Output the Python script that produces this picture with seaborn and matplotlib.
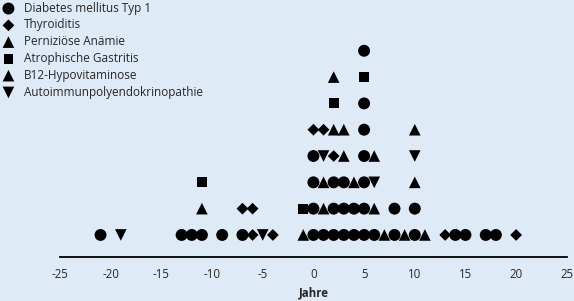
import pandas as pd
import numpy as np
import seaborn as sns
import matplotlib.pyplot as plt

# Ereignisse: Jahr relativ zur Diagnose und Krankheit (Reihenfolge = Stapel von unten nach oben)
jahre = [-21, -19, -13, -12, -11, -11, -11, -9, -7, -7, -6, -6, -5, -4,
         -1, -1,
         0, 0, 0, 0, 0,
         1, 1, 1, 1, 1,
         2, 2, 2, 2, 2, 2, 2,
         3, 3, 3, 3, 3,
         4, 4, 4,
         5, 5, 5, 5, 5, 5, 5, 5,
         6, 6, 6, 6,
         7, 8, 8, 9,
         10, 10, 10, 10, 10,
         11, 13, 14, 15, 17, 18, 20]

krankheit = ["DM", "APE", "DM", "DM", "DM", "PA", "AG", "DM", "DM", "TH", "TH", "TH", "APE", "TH",
             "B12", "AG",
             "DM", "DM", "DM", "DM", "TH",
             "DM", "PA", "B12", "APE", "TH",
             "DM", "DM", "DM", "TH", "PA", "AG", "PA",
             "DM", "DM", "DM", "PA", "B12",
             "DM", "DM", "B12",
             "DM", "DM", "DM", "DM", "DM", "DM", "AG", "DM",
             "DM", "PA", "APE", "B12",
             "B12", "DM", "DM", "PA",
             "DM", "DM", "B12", "APE", "PA",
             "B12", "TH", "DM", "DM", "DM", "DM", "TH"]

kategorien = ["DM", "TH", "PA", "AG", "B12", "APE"]
namen = ["Diabetes mellitus Typ 1", "Thyroiditis", "Perniziöse Anämie",
         "Atrophische Gastritis", "B12-Hypovitaminose", "Autoimmunpolyendokrinopathie"]
marker = ["o", "D", "^", "s", "^", "v"]
groesse = [74, 36, 70, 50, 70, 70]

xticks = [-25, -20, -15, -10, -5, 0, 5, 10, 15, 20, 25]

df = pd.DataFrame({"jahr": jahre, "krankheit": krankheit})
df["stufe"] = df.groupby("jahr").cumcount()

bg = "#dfeaf7"
sns.set_style("white")
plt.rcParams["font.family"] = ["Open Sans", "DejaVu Sans"]
plt.rcParams["axes.unicode_minus"] = False

fig = plt.figure(figsize=(5.74, 3.01), dpi=100, facecolor=bg)
ax = fig.add_axes([0.1045, 0.146, 0.883, 0.854])
ax.set_facecolor(bg)

for k, name, m, s in zip(kategorien, namen, marker, groesse):
    sub = df[df["krankheit"] == k]
    sns.scatterplot(data=sub, x="jahr", y="stufe", marker=m, s=s, color="black",
                    edgecolor="none", linewidth=0, label=name, ax=ax, legend=False)

ax.set_xlim(-25, 25)
ax.set_ylim(-0.84, 8.93)
ax.set_xticks(xticks)
ax.set_xticklabels([str(t) for t in xticks], fontsize=8.3)
ax.set_yticks([])
ax.set_ylabel("")
ax.set_xlabel("Jahre", fontsize=8.3, fontweight="bold", labelpad=4)
for side in ["top", "right", "left"]:
    ax.spines[side].set_visible(False)
ax.spines["bottom"].set_linewidth(1.3)
ax.spines["bottom"].set_color("black")
ax.tick_params(axis="x", direction="out", length=4, width=1, color="black", pad=4)

handles, labels = ax.get_legend_handles_labels()
fig.legend(handles, labels, loc="upper left", bbox_to_anchor=(-0.01, 1.022), frameon=False,
           fontsize=8.5, handletextpad=0.8, labelspacing=0.32, borderpad=0.2,
           handlelength=1.0)

fig.savefig("out.png", dpi=100, facecolor=bg)
